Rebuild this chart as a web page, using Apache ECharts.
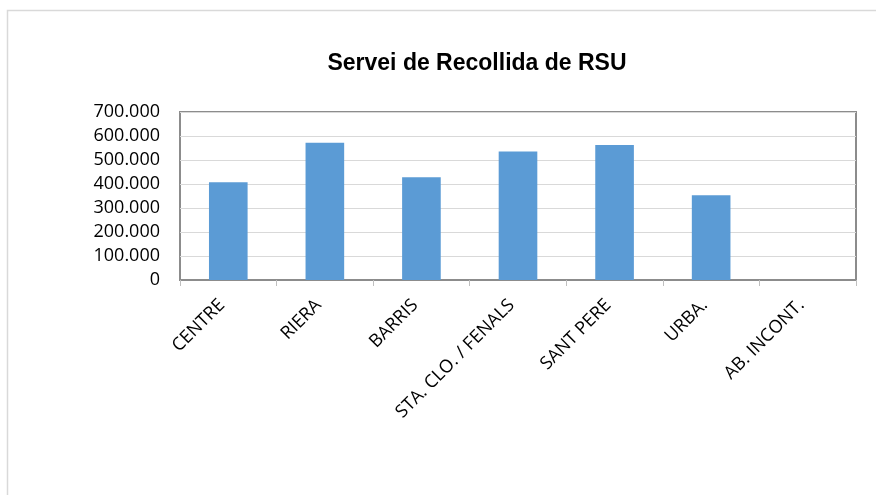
<!DOCTYPE html>
<html>
<head>
<meta charset="utf-8">
<script src="https://cdn.jsdelivr.net/npm/echarts@6/dist/echarts.min.js"></script>
<style>
  html, body { margin: 0; padding: 0; background: #fff; }
  #main { width: 876px; height: 495px; }
</style>
</head>
<body>
<div id="main"></div>
<script>
// dades del grafic
var zones = ['CENTRE', 'RIERA', 'BARRIS', 'STA. CLO. / FENALS', 'SANT PERE', 'URBA.', 'AB. INCONT.'];
var tones = [407000, 572000, 428000, 535000, 562000, 353000, 0];
var yTicks = [0, 100000, 200000, 300000, 400000, 500000, 600000, 700000];

var chart = echarts.init(document.getElementById('main'));

// format amb punt de milers
function fmt(v) {
  return String(v).replace(/\B(?=(\d{3})+(?!\d))/g, '.');
}

var option = {
  animation: false,
  graphic: [{
    type: 'rect',
    shape: { x: 7.5, y: 10.5, width: 900, height: 500 },
    style: { fill: 'none', stroke: '#d9d9d9', lineWidth: 1.5 },
    silent: true
  }],
  title: {
    text: 'Servei de Recollida de RSU',
    left: 472,
    textAlign: 'center',
    top: 47,
    textStyle: {
      fontFamily: 'Liberation Sans',
      fontWeight: 'bold',
      fontSize: 23,
      color: '#000'
    }
  },
  grid: {
    left: 180,
    right: 20,
    top: 112,
    bottom: 215,
    show: true,
    borderColor: '#8c8c8c',
    borderWidth: 2,
    containLabel: false
  },
  xAxis: {
    type: 'category',
    data: zones,
    axisLine: { show: true, lineStyle: { color: '#8c8c8c', width: 2 } },
    axisTick: { show: true, alignWithLabel: false, length: 6, lineStyle: { color: '#bfbfbf' } },
    axisLabel: {
      rotate: 45,
      interval: 0,
      margin: 16,
      padding: [0, 9, 0, 0],
      fontFamily: 'Open Sans',
      fontSize: 18,
      color: '#000'
    }
  },
  yAxis: {
    type: 'value',
    min: yTicks[0],
    max: yTicks[yTicks.length - 1],
    interval: yTicks[1] - yTicks[0],
    axisLine: { show: false },
    axisTick: { show: false },
    splitLine: { lineStyle: { color: '#d9d9d9', width: 1 } },
    axisLabel: {
      margin: 20,
      fontFamily: 'Open Sans',
      fontSize: 18,
      color: '#000',
      formatter: fmt
    }
  },
  series: [{
    type: 'bar',
    data: tones,
    barWidth: '40%',
    itemStyle: { color: '#5b9bd5' }
  }]
};

chart.setOption(option);
</script>
</body>
</html>
